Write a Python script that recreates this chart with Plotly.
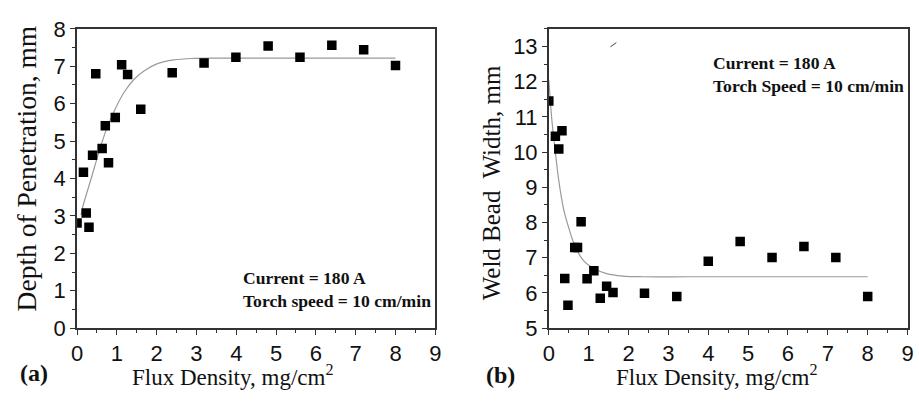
import plotly.graph_objects as go

# ---- data ----
flux_a = [0.0, 0.16, 0.23, 0.30, 0.39, 0.47, 0.63, 0.71, 0.79, 0.96, 1.12, 1.27, 1.60, 2.39, 3.19, 3.99, 4.80, 5.60, 6.40, 7.20, 8.00]
depth = [2.81, 4.17, 3.08, 2.70, 4.62, 6.80, 4.80, 5.41, 4.42, 5.63, 7.04, 6.78, 5.85, 6.83, 7.09, 7.24, 7.54, 7.24, 7.56, 7.44, 7.02]

fit_a_x = [0.10, 0.13, 0.36, 0.57, 0.74, 0.94, 1.19, 1.44, 1.69, 2.02, 2.43, 2.93, 3.5, 4.5, 6.0, 8.0]
fit_a_y = [3.02, 3.19, 4.02, 4.78, 5.32, 5.82, 6.32, 6.66, 6.88, 7.07, 7.17, 7.21, 7.22, 7.22, 7.22, 7.22]

flux_b = [0.0, 0.165, 0.25, 0.33, 0.40, 0.48, 0.65, 0.72, 0.81, 0.96, 1.13, 1.29, 1.45, 1.61, 2.40, 3.21, 4.00, 4.80, 5.60, 6.40, 7.20, 8.00]
width = [11.45, 10.45, 10.09, 10.61, 6.41, 5.65, 7.29, 7.29, 8.02, 6.40, 6.63, 5.85, 6.19, 6.01, 5.99, 5.90, 6.90, 7.46, 7.01, 7.32, 7.01, 5.90]

fit_b_x = [0.0, 0.08, 0.165, 0.25, 0.37, 0.50, 0.66, 0.87, 1.12, 1.45, 1.86, 2.36, 3.5, 5.0, 8.0]
fit_b_y = [12.05, 10.87, 9.99, 9.19, 8.39, 7.85, 7.32, 6.92, 6.70, 6.55, 6.48, 6.46, 6.46, 6.46, 6.46]

stray_x = [1.545, 1.694]
stray_y = [12.99, 13.11]

x_ticks = list(range(0, 10))
ya_ticks = list(range(0, 9))
yb_ticks = list(range(5, 14))

W, H = 919, 404
SANS = "Liberation Sans, Arial, sans-serif"
SERIF = "Liberation Serif, Times New Roman, serif"
AX = "#333333"

def px_x(p):
    return p / W

def px_y(p):
    return 1 - p / H

fig = go.Figure()

fig.add_trace(go.Scatter(x=fit_a_x, y=fit_a_y, mode="lines", line=dict(color="#9a9a9a", width=1.2, shape="spline"),
                         xaxis="x", yaxis="y", hoverinfo="skip"))
fig.add_trace(go.Scatter(x=flux_a, y=depth, mode="markers", marker=dict(symbol="square", size=9.5, color="black"),
                         xaxis="x", yaxis="y"))
fig.add_trace(go.Scatter(x=fit_b_x, y=fit_b_y, mode="lines", line=dict(color="#9a9a9a", width=1.2, shape="spline"),
                         xaxis="x2", yaxis="y2", hoverinfo="skip"))
fig.add_trace(go.Scatter(x=flux_b, y=width, mode="markers", marker=dict(symbol="square", size=9.5, color="black"),
                         xaxis="x2", yaxis="y2"))
fig.add_trace(go.Scatter(x=stray_x, y=stray_y, mode="lines", line=dict(color="#444444", width=1),
                         xaxis="x2", yaxis="y2", hoverinfo="skip"))

def axis(domain, rng, tickvals, anchor):
    return dict(domain=domain, range=rng, tickvals=tickvals, ticks="outside", ticklen=5, tickwidth=1.3,
                tickcolor=AX, showline=True, linecolor=AX, linewidth=1.6, mirror=True, showgrid=False,
                zeroline=False, anchor=anchor, tickfont=dict(family=SANS, size=22, color="#111111"),
                minor=dict(dtick=0.5, ticks="outside", ticklen=3, tickwidth=1.1, tickcolor=AX))

yd = [px_y(337), px_y(18)]
fig.update_layout(
    width=W, height=H, margin=dict(l=0, r=0, t=0, b=0), showlegend=False,
    paper_bgcolor="white", plot_bgcolor="white",
    xaxis=axis([px_x(72), px_x(435)], [0, 9], x_ticks, "y"),
    yaxis=axis(yd, [0, 8], ya_ticks, "x"),
    xaxis2=axis([px_x(550), px_x(913.5)], [0, 9], x_ticks, "y2"),
    yaxis2=axis(yd, [5, 13.5], yb_ticks, "x2"),
)

ann = [
    dict(text="Depth of Penetration, mm", x=px_x(21), y=px_y(167), textangle=-90, font=dict(family=SERIF, size=27.5)),
    dict(text="Weld Bead  Width, mm", x=px_x(492), y=px_y(182), textangle=-90, font=dict(family=SERIF, size=25)),
    dict(text="Flux Density, mg/cm<sup>2</sup>", x=px_x(230), y=px_y(387), font=dict(family=SERIF, size=23)),
    dict(text="Flux Density, mg/cm<sup>2</sup>", x=px_x(720), y=px_y(387), font=dict(family=SERIF, size=23)),
    dict(text="<b>(a)</b>", x=px_x(28), y=px_y(385), font=dict(family=SERIF, size=24)),
    dict(text="<b>(b)</b>", x=px_x(501), y=px_y(387), font=dict(family=SERIF, size=24)),
]
for a in ann:
    a.update(xref="paper", yref="paper", showarrow=False, xanchor="center", yanchor="middle")
    a["font"]["color"] = "#111111"

ann += [
    dict(text="<b>Current = 180 A<br>Torch speed = 10 cm/min</b>", x=4.12, y=1.045, xref="x", yref="y",
         xanchor="left", yanchor="middle", align="left", showarrow=False,
         font=dict(family=SERIF, size=17.6, color="#111111")),
    dict(text="<b>Current = 180 A<br>Torch Speed = 10 cm/min</b>", x=4.07, y=12.2, xref="x2", yref="y2",
         xanchor="left", yanchor="middle", align="left", showarrow=False,
         font=dict(family=SERIF, size=17.6, color="#111111")),
]
fig.update_layout(annotations=ann)

fig.write_html("out.html")
